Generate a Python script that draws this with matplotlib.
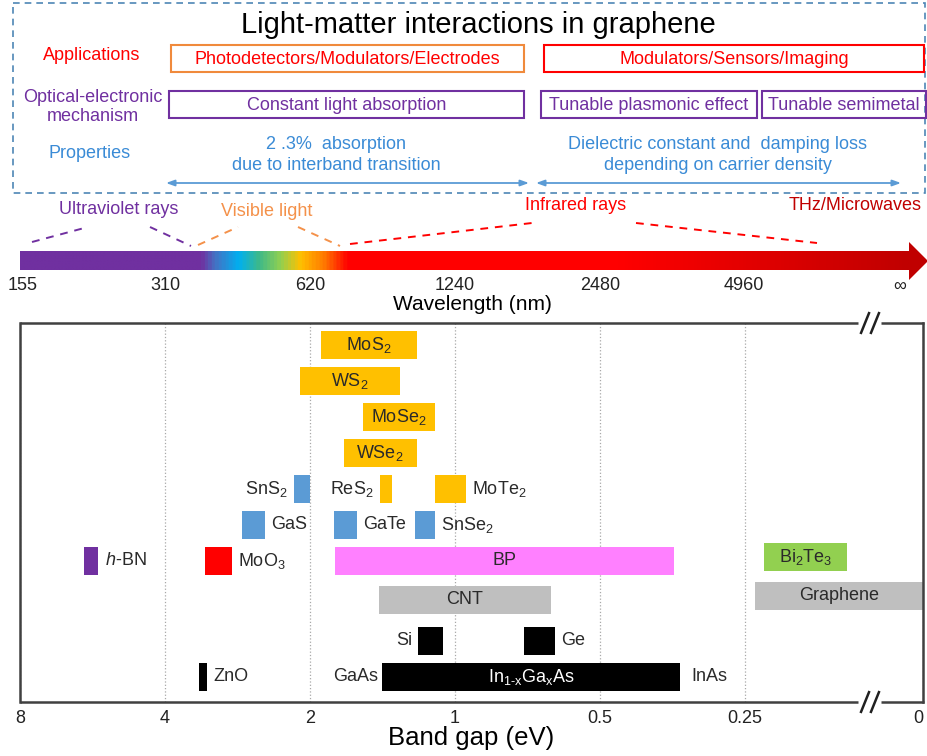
import numpy as np
import matplotlib.pyplot as plt
from matplotlib.colors import LinearSegmentedColormap
from matplotlib.patches import Rectangle, Polygon

plt.rcParams['font.family'] = ['Liberation Sans', 'DejaVu Sans']
plt.rcParams['mathtext.fontset'] = 'custom'
plt.rcParams['mathtext.rm'] = 'Liberation Sans'
plt.rcParams['mathtext.it'] = 'Liberation Sans:italic'
plt.rcParams['mathtext.default'] = 'regular'

# band gap data (eV)
materials = ['MoS$_2$', 'WS$_2$', 'MoSe$_2$', 'WSe$_2$',
             'SnS$_2$', 'ReS$_2$', 'MoTe$_2$',
             'GaS', 'GaTe', 'SnSe$_2$',
             '$\\mathit{h}$-BN', 'MoO$_3$', 'BP', 'Bi$_2$Te$_3$',
             'CNT', 'Graphene', 'Si', 'Ge',
             'ZnO', 'In$_{1\\text{-}x}$Ga$_x$As']
gap_max = [1.9, 2.1, 1.55, 1.7, 2.16, 1.43, 1.1, 2.77, 1.78, 1.21,
           5.9, 3.3, 1.77, 0.228, 1.44, 0.238, 1.19, 0.72, 3.4, 1.42]
gap_min = [1.2, 1.3, 1.1, 1.2, 2.0, 1.35, 0.95, 2.48, 1.6, 1.1,
           5.5, 2.9, 0.35, 0.153, 0.63, 0.0, 1.06, 0.62, 3.27, 0.34]
rows = [0, 1, 2, 3, 4, 4, 4, 5, 5, 5, 6, 6, 6, 5.9, 7.08, 6.97, 8.22, 8.22, 9.22, 9.22]
bar_colors = ['#FFC000', '#FFC000', '#FFC000', '#FFC000',
              '#5B9BD5', '#FFC000', '#FFC000',
              '#5B9BD5', '#5B9BD5', '#5B9BD5',
              '#7030A0', '#FF0000', '#FF80FF', '#92D050',
              '#BFBFBF', '#BFBFBF', '#000000', '#000000',
              '#000000', '#000000']
label_pos = ['in', 'in', 'in', 'in',
             'left', 'left', 'right',
             'right', 'right', 'right',
             'right', 'right', 'in', 'in',
             'in', 'in', 'left', 'right',
             'right', 'in']
end_labels = ('GaAs', 'InAs')  # both ends of the In(1-x)Ga(x)As bar

gap_ticks = [8, 4, 2, 1, 0.5, 0.25, 0]
gap_tick_text = ['8', '4', '2', '1', '0.5', '0.25', '0']
wavelength_text = ['155', '310', '620', '1240', '2480', '4960', '\u221e']

X_ZERO = 6.23    # where gap = 0 sits, after the axis break


def to_x(e):
    return X_ZERO if e == 0 else 3 - np.log2(e)


fig = plt.figure(figsize=(9.28, 7.56), dpi=100)

# ---------- top panel, drawn in pixel coordinates ----------
top = fig.add_axes([0, 0, 1, 1])
top.axis('off')

BLUE = '#3A8BD6'
PURPLE = '#7030A0'
RED = '#FF0000'
ORANGE = '#F08A3C'
DARKRED = '#C00000'
FS = 13

top.add_patch(Rectangle((13, 3), 912, 190, fill=False, ec='#4E86B5', lw=1.2,
                        ls=(0, (4, 3))))
top.text(478, 25, 'Light-matter interactions in graphene', fontsize=21,
         ha='center', va='center')
top.text(92, 55, 'Applications', color=RED, fontsize=FS, ha='center', va='center')
top.text(93, 107, 'Optical-electronic\nmechanism', color=PURPLE, fontsize=FS,
         ha='center', va='center', linespacing=1.2)
top.text(90, 154, 'Properties', color=BLUE, fontsize=FS, ha='center', va='center')

boxes = [((171, 45, 524, 72), ORANGE, 'Photodetectors/Modulators/Electrodes', RED),
         ((544, 45, 924, 72), RED, 'Modulators/Sensors/Imaging', RED),
         ((169, 91, 524, 118), PURPLE, 'Constant light absorption', PURPLE),
         ((541, 91, 757, 118), PURPLE, 'Tunable plasmonic effect', PURPLE),
         ((762, 91, 926, 118), PURPLE, 'Tunable semimetal', PURPLE)]
for (x0, y0, x1, y1), ec, txt, tc in boxes:
    top.add_patch(Rectangle((x0, y0), x1 - x0, y1 - y0, fill=False, ec=ec, lw=1.5))
    top.text((x0 + x1) / 2, (y0 + y1) / 2 + 0.5, txt, color=tc, fontsize=FS,
             ha='center', va='center')

top.text(336, 155, '2 .3%  absorption\ndue to interband transition', color=BLUE,
         fontsize=FS, ha='center', va='center', linespacing=1.35)
top.text(718, 155, 'Dielectric constant and  damping loss\ndepending on carrier density',
         color=BLUE, fontsize=FS, ha='center', va='center', linespacing=1.35)
for xa, xb in [(166, 529), (536, 901)]:
    top.annotate('', xy=(xa, 183), xytext=(xb, 183),
                 arrowprops=dict(arrowstyle='<|-|>,head_length=0.5,head_width=0.18',
                                 color='#5B9BD5', lw=1.3, shrinkA=0, shrinkB=0))

# spectrum region labels and dashed guide lines
top.text(119, 209, 'Ultraviolet rays', color=PURPLE, fontsize=FS, ha='center', va='center')
top.text(267, 211, 'Visible light', color='#F4914A', fontsize=FS, ha='center', va='center')
top.text(576, 206, 'Infrared rays', color=RED, fontsize=FS, ha='center', va='center')
top.text(855, 206, 'THz/Microwaves', color=DARKRED, fontsize=FS, ha='center', va='center')
guides = [((32, 88), (242, 227), PURPLE), ((150, 191), (227, 246), PURPLE),
          ((198, 238), (245, 227), '#F4914A'), ((298, 340), (227, 246), '#F4914A'),
          ((350, 532), (244, 223), RED), ((636, 817), (223, 243), RED)]
for xs, ys, c in guides:
    top.plot(xs, ys, color=c, lw=1.4, ls=(0, (4, 3.5)))

stops = [(20, '#7030A0'), (200, '#7030A0'), (214, '#4472C4'), (238, '#00B0F0'),
         (258, '#3DB98A'), (280, '#92D050'), (300, '#FFC000'), (323, '#FF7A00'),
         (347, '#FF0000'), (620, '#FF0000'), (910, '#C00000')]
cmap = LinearSegmentedColormap.from_list('spec', [((x - 20) / 890, c) for x, c in stops])
top.imshow(np.linspace(0, 1, 900)[None, :], cmap=cmap, extent=(20, 910, 270, 251),
           aspect='auto', interpolation='bilinear')
top.add_patch(Polygon([(909, 242), (928, 261), (909, 280)], closed=True,
                      color=DARKRED, lw=0))

for xw, t in zip([23, 165, 310, 455, 600, 744, 900], wavelength_text):
    top.text(xw, 286, t, fontsize=FS, ha='center', va='center', color='#222222')
top.text(472, 305, 'Wavelength (nm)', fontsize=15, ha='center', va='center')

top.set_xlim(0, 928)
top.set_ylim(756, 0)

# ---------- band gap chart ----------
ax = fig.add_axes([20 / 928, 54 / 756, 903 / 928, 379 / 756])
ax.set_xlim(0, X_ZERO)
ax.set_ylim(9.92, -0.61)

ax.grid(axis='x', ls=':', color='#A8A8A8', lw=0.9)
ax.set_axisbelow(True)

TXT = '#2A2A2A'
for name, hi, lo, r, c, pos in zip(materials, gap_max, gap_min, rows, bar_colors, label_pos):
    x0, x1 = to_x(hi), to_x(lo)
    ax.barh(r, x1 - x0, left=x0, height=0.78, color=c, lw=0)
    if pos == 'in':
        tc = 'white' if c == '#000000' else TXT
        ax.text((x0 + x1) / 2, r, name, color=tc, fontsize=FS, ha='center', va='center')
    elif pos == 'left':
        ax.annotate(name, (x0, r), xytext=(-4.5, 0), textcoords='offset points',
                    ha='right', va='center', fontsize=FS, color=TXT)
    else:
        ax.annotate(name, (x1, r), xytext=(4.5, 0), textcoords='offset points',
                    ha='left', va='center', fontsize=FS, color=TXT)
    if name.startswith('In'):
        ax.annotate(end_labels[0], (x0, r), xytext=(-2.5, 0), textcoords='offset points',
                    ha='right', va='center', fontsize=FS, color=TXT)
        ax.annotate(end_labels[1], (x1, r), xytext=(8, 0), textcoords='offset points',
                    ha='left', va='center', fontsize=FS, color=TXT)

ax.set_xticks([to_x(v) for v in gap_ticks])
ax.set_xticklabels(gap_tick_text, fontsize=FS, color='#222222')
ax.get_xticklabels()[-1].set_ha('right')
ax.tick_params(axis='x', length=0, pad=6)
ax.set_yticks([])
ax.set_xlabel('Band gap (eV)', fontsize=18.5, labelpad=-1)

SPINE = '#404040'
for s in ('left', 'right'):
    ax.spines[s].set_color(SPINE)
    ax.spines[s].set_linewidth(1.8)
for s in ('top', 'bottom'):
    ax.spines[s].set_visible(False)

gap_l, gap_r = 0.928, 0.9535
for yy in (0, 1):
    ax.plot([0, gap_l], [yy, yy], transform=ax.transAxes, color=SPINE, lw=1.8,
            clip_on=False, solid_capstyle='butt')
    ax.plot([gap_r, 1.001], [yy, yy], transform=ax.transAxes, color=SPINE, lw=1.8,
            clip_on=False, solid_capstyle='butt')
    for xc in (0.9358, 0.9468):
        ax.plot([xc - 0.0044, xc + 0.0044], [yy - 0.026, yy + 0.026],
                transform=ax.transAxes, color='#202020', lw=1.8, clip_on=False)

fig.savefig('out.png', dpi=100)
